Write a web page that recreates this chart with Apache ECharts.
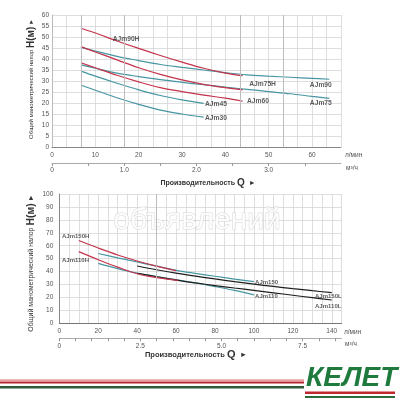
<!DOCTYPE html>
<html><head><meta charset="utf-8">
<script src="https://cdn.jsdelivr.net/npm/echarts@6/dist/echarts.min.js"></script>
<style>html,body{margin:0;padding:0;background:#fff}#c{width:400px;height:400px}</style>
</head><body><div id="c"></div>
<script>
// ---------- TOP CHART DATA (x: л/мин, y: м) ----------
const aj90H = [[6.67,54],[10,51.8],[15,48.2],[20,44.8],[25,41.6],[30,38.6],[35,35.8],[40,33.6],[44,32.4]];
const aj90  = [[6.67,45.3],[10,43.6],[15,41.2],[20,39.3],[25,37.5],[30,36.2],[35,35],[40,33.8],[45,32.8],[50,32.2],[55,31.7],[60,31.2],[64,30.8]];
const aj75H = [[6.67,45.6],[10,43.2],[15,39.6],[20,36],[25,33],[30,30.5],[35,28.5],[40,27],[44,26]];
const aj75  = [[6.67,37.3],[10,35.8],[15,33.6],[20,32],[25,30.6],[30,29.4],[35,28.3],[40,27.2],[45,26.2],[50,25.2],[55,24.2],[60,23],[64,22.1]];
const aj60  = [[6.67,38.3],[10,36],[15,32.6],[20,29.6],[25,27],[30,25.2],[35,23.6],[40,22.2],[44,20.8]];
const aj45  = [[6.67,34.5],[10,32.2],[15,29],[20,26],[25,23.4],[30,21.4],[35,19.8]];
const aj30  = [[6.67,28.2],[10,25.8],[15,22.4],[20,19.4],[25,16.8],[30,15],[35,13.6]];
const topLabels = [['AJm90H',14,49.1],['AJm75H',45.5,28.6],['AJm90',59.5,28.2],['AJm75',59.5,20],['AJm60',45,20.9],['AJm45',35.3,19.4],['AJm30',35.3,13.2]];
const topMarkQ = [6.67,16.67,43.33,53.33];

// ---------- BOTTOM CHART DATA (x: л/мин, y: м) ----------
const aj150H = [[10,64],[20,58.2],[30,52.8],[40,48.2],[50,44.2],[60,40.7]];
const aj110H = [[10,55.4],[20,49.2],[30,43.4],[40,38.3],[50,35.3],[61,33.2]];
const aj150  = [[20,54],[30,50.6],[40,47.4],[50,44.2],[60,41],[70,38.6],[80,36.4],[90,34.2],[100,32.2]];
const aj110  = [[20,46.4],[30,42.3],[40,38.8],[50,36.2],[60,33.8],[70,31.2],[80,28.4],[90,25.4],[100,22]];
const aj150L = [[40,44.3],[50,41.4],[60,38.8],[70,36.5],[80,34.3],[90,32.2],[100,30.3],[110,28.5],[120,26.8],[130,25.2],[140,23.7]];
const aj110L = [[40,38.7],[50,36],[60,33.4],[70,31.2],[80,29.2],[90,27.3],[100,25.5],[110,23.6],[120,21.7],[130,19.8],[140,18]];
const botLabels = [['AJm150H',1.4,67],['AJm110H',1.4,49],['AJm150',100.6,31.9],['AJm110',100.6,20.6],['AJm150L',131.4,20.6],['AJm110L',131.4,13.4]];
const botMarkQ = [50];

const RED='#c4344c', TEAL='#4796a3', BLK='#1e1e1e';
const LBL='#555';
const FONT='"Liberation Sans", Arial, sans-serif';

function line(name, data, color, xi, yi){
  return {name, type:'line', data, xAxisIndex:xi, yAxisIndex:yi, smooth:0.35, showSymbol:false,
    lineStyle:{color, width:1.2}, itemStyle:{color}, z:3, silent:true};
}
function labelSeries(list, xi, yi, fs){
  return {type:'scatter', xAxisIndex:xi, yAxisIndex:yi, symbolSize:0, silent:true, z:5,
    data:list.map(l=>({name:l[0], value:[l[1],l[2]]})),
    label:{show:true, position:'right', distance:0, formatter:p=>p.name, fontSize:fs, fontWeight:'bold', color:'#333', fontFamily:FONT}};
}
function markSeries(vals, xi, yi){
  return {type:'line', data:[], xAxisIndex:xi, yAxisIndex:yi, silent:true,
    markLine:{silent:true, symbol:'none', label:{show:false}, lineStyle:{color:'#bcbcbc', type:'solid', width:1},
      data: vals.map(v=>({xAxis:v}))}};
}
const axLbl = {fontSize:6.5, color:LBL, fontFamily:FONT};
const gridLine = {show:true, lineStyle:{color:'#d6d6d6', width:0.8}};

const chart = echarts.init(document.getElementById('c'), null, {renderer:'canvas'});
chart.setOption({
  animation:false,
  backgroundColor:'#fff',
  grid:[
    {left:52, top:15, width:288.9, height:132},
    {left:59.3, top:194, width:282.2, height:129.3}
  ],
  xAxis:[
    {gridIndex:0, type:'value', min:0, max:66.667, interval:10, position:'bottom',
      axisLine:{show:true, lineStyle:{color:'#888', width:1}}, axisTick:{show:false}, splitLine:{show:false},
      axisLabel:Object.assign({margin:5, showMaxLabel:false, formatter:v=>(v%10===0?String(v):'')}, axLbl)},
    {gridIndex:0, type:'value', min:0, max:4, interval:0.5, position:'bottom', offset:16,
      axisLine:{show:true, lineStyle:{color:'#aaa', width:1}}, axisTick:{show:true, length:3, inside:false, lineStyle:{color:'#999'}},
      splitLine:{show:false},
      axisLabel:Object.assign({margin:4, showMaxLabel:false, formatter:v=>(v===0?'0':(Math.abs(v-Math.round(v))<1e-6?v.toFixed(1):''))}, axLbl)},
    {gridIndex:0, type:'value', min:0, max:4, interval:0.2, position:'bottom',
      axisLine:{show:false}, axisTick:{show:false}, axisLabel:{show:false}, splitLine:gridLine},

    {gridIndex:1, type:'value', min:0, max:145, interval:20, position:'bottom',
      axisLine:{show:true, lineStyle:{color:'#777', width:1}}, axisTick:{show:false}, splitLine:{show:false},
      axisLabel:Object.assign({margin:4, showMaxLabel:false, formatter:v=>(v%20===0?String(v):'')}, axLbl)},
    {gridIndex:1, type:'value', min:0, max:8.7, interval:0.5, position:'bottom', offset:15,
      axisLine:{show:true, lineStyle:{color:'#aaa', width:1}}, axisTick:{show:true, length:3, lineStyle:{color:'#999'}},
      splitLine:{show:false},
      axisLabel:Object.assign({margin:4, showMaxLabel:false, formatter:v=>(v===0?'0':(Math.abs(v/2.5-Math.round(v/2.5))<1e-6?v.toFixed(1):''))}, axLbl)},
    {gridIndex:1, type:'value', min:0, max:145, interval:5, position:'bottom',
      axisLine:{show:false}, axisTick:{show:false}, axisLabel:{show:false}, splitLine:gridLine}
  ],
  yAxis:[
    {gridIndex:0, type:'value', min:0, max:60, interval:5,
      axisLine:{show:true, lineStyle:{color:'#bbb'}}, axisTick:{show:false}, splitLine:gridLine,
      axisLabel:Object.assign({margin:3}, axLbl)},
    {gridIndex:1, type:'value', min:0, max:100, interval:10,
      axisLine:{show:true, lineStyle:{color:'#888'}}, axisTick:{show:false}, splitLine:gridLine,
      axisLabel:Object.assign({margin:6}, axLbl)}
  ],
  series:[
    markSeries(topMarkQ,0,0),
    markSeries(botMarkQ,3,1),
    line('AJm90',aj90,TEAL,0,0),
    line('AJm75',aj75,TEAL,0,0),
    line('AJm45',aj45,TEAL,0,0),
    line('AJm30',aj30,TEAL,0,0),
    line('AJm90H',aj90H,RED,0,0),
    line('AJm75H',aj75H,RED,0,0),
    line('AJm60',aj60,RED,0,0),
    labelSeries(topLabels,0,0,6.7),
    line('AJm150',aj150,TEAL,3,1),
    line('AJm110',aj110,TEAL,3,1),
    line('AJm150L',aj150L,BLK,3,1),
    line('AJm110L',aj110L,BLK,3,1),
    line('AJm150H',aj150H,RED,3,1),
    line('AJm110H',aj110H,RED,3,1),
    labelSeries(botLabels,3,1,6)
  ],
  graphic:[
    {type:'text', x:197, y:221, z:1, silent:true,
      style:{text:'объявлений', align:'center', verticalAlign:'middle', font:'30px '+FONT, fill:'rgba(255,255,255,0.85)', stroke:'#d8d8d8', lineWidth:1}},
    {type:'text', x:345, y:155, style:{text:'л/мин', font:'6.5px '+FONT, fill:LBL, verticalAlign:'middle'}},
    {type:'text', x:346, y:168, style:{text:'м³/ч', font:'6.5px '+FONT, fill:LBL, verticalAlign:'middle'}},
    {type:'text', x:344, y:332, style:{text:'л/мин', font:'6.5px '+FONT, fill:LBL, verticalAlign:'middle'}},
    {type:'text', x:345, y:344, style:{text:'м³/ч', font:'6.5px '+FONT, fill:LBL, verticalAlign:'middle'}},
    {type:'text', x:208, y:183, style:{text:'{a|Производительность }{q|Q}{a|  ►}', align:'center', verticalAlign:'middle',
      rich:{a:{fontSize:7, fontWeight:'bold', fill:'#333', fontFamily:FONT}, q:{fontSize:10, fontWeight:'bold', fill:'#333', fontFamily:FONT}}}},
    {type:'text', x:196, y:355, style:{text:'{a|Производительность }{q|Q}{a|  ►}', align:'center', verticalAlign:'middle',
      rich:{a:{fontSize:7.5, fontWeight:'bold', fill:'#333', fontFamily:FONT}, q:{fontSize:11, fontWeight:'bold', fill:'#333', fontFamily:FONT}}}},
    {type:'text', x:31, y:79, rotation:Math.PI/2, style:{text:'{a|Общий манометрический напор }{h|H(м)}{a| ►}', align:'center', verticalAlign:'middle',
      rich:{a:{fontSize:6, fill:'#333', fontFamily:FONT}, h:{fontSize:10, fontWeight:'bold', fill:'#333', fontFamily:FONT}}}},
    {type:'text', x:31, y:263, rotation:Math.PI/2, style:{text:'{a|Общий манометрический напор }{h|H(м)}{a| ►}', align:'center', verticalAlign:'middle',
      rich:{a:{fontSize:7, fill:'#333', fontFamily:FONT}, h:{fontSize:10.5, fontWeight:'bold', fill:'#333', fontFamily:FONT}}}},
    {type:'rect', shape:{x:0, y:379.5, width:304, height:1.2}, style:{fill:'#e07a7a'}},
    {type:'rect', shape:{x:0, y:381.5, width:304, height:2}, style:{fill:'#b8252f'}},
    {type:'rect', shape:{x:0, y:386, width:304, height:2.5}, style:{fill:'#2e5a3a'}},
    {type:'rect', shape:{x:305, y:391.5, width:90, height:2.5}, style:{fill:'#c0282f'}},
    {type:'rect', shape:{x:305, y:396, width:90, height:2}, style:{fill:'#2e6a3e'}},
    {type:'text', x:306, y:378, style:{text:'КЕЛЕТ', font:'italic 900 28px '+FONT, fill:'#1f7a3e', verticalAlign:'middle'}}
  ]
});
</script></body></html>
